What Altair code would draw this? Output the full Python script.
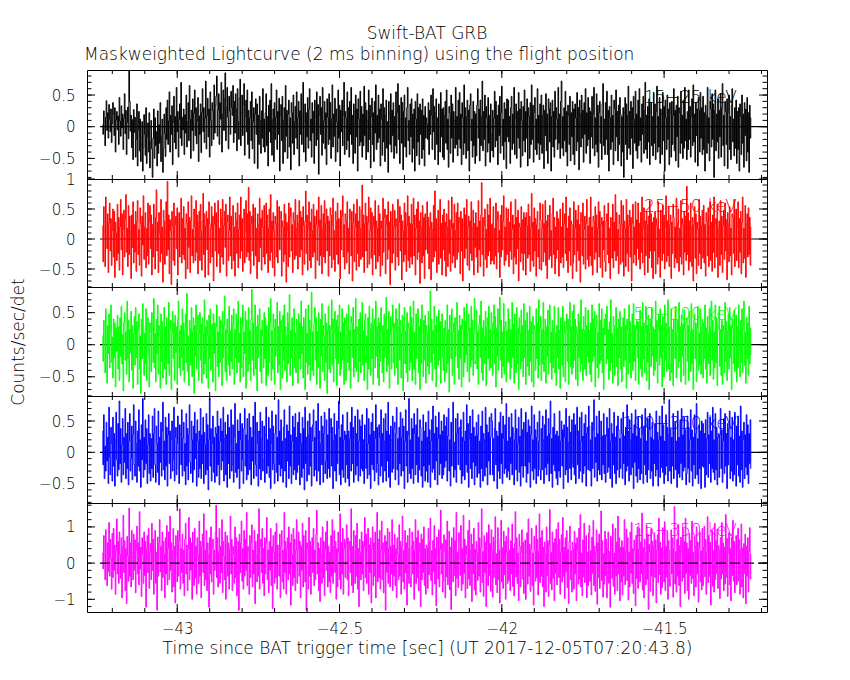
import altair as alt
import numpy as np
import pandas as pd

FONT = "DejaVu Sans"
WEIGHT = 200

# ---- time axis (seconds since BAT trigger), 2 ms bins ----
T_START = -43.23          # centre of first bin
T_END = -41.232           # centre of last bin
ZERO_START = -43.238      # where the zero reference line starts
X_DOMAIN = [-43.278, -41.183]
X_LABELS = [-43, -42.5, -42, -41.5]
X_MINOR_STEP = 0.1

# ---- rates, in hundredths of counts/sec/det ----
RATE_15_25 = [
    3, -12, 25, 8, -30, 15, 41, -6, 22, -18, 35, 12, -8, 28, -25, 5, 38, 19, -14, 30, -40, 10, 24, -5, 17,
    -28, 46, 9, -15, 33, -2, 20, -36, 14, 52, -11, 26, -44, 7, 31, -19, 88, 40, -7, 18, -33, 11, -52, 27, -9,
    15, -48, -20, 36, -62, -5, 24, -38, 12, -55, -27, 8, -70, -33, 19, -12, -45, 30, -58, -16, 6, -40, 22, -65, -24,
    10, -35, -80, -18, 28, -50, 14, -30, -8, -62, 25, -42, 3, -26, 38, -55, -15, 12, -72, -34, 20, -11, -47, 30, -20,
    42, -28, 9, 55, -40, 18, -12, 33, -60, 7, 48, -25, 16, -35, 62, -8, 24, -48, 11, 36, -18, 70, -30, 15, -5,
    28, -44, 19, -10, 50, -32, 8, 38, -22, 65, 12, -50, 26, -6, 44, -38, 21, 58, -14, 30, -27, 9, 46, -55, 17,
    -12, 36, -41, 22, 60, -8, 30, -25, 14, 72, -35, 18, 45, -16, 28, -48, 55, 10, -30, 38, 25, -20, 66, -10, 34,
    48, 80, -15, 26, 52, -28, 38, 12, 70, -40, 20, 58, -6, 44, 85, -22, 30, 62, 15, -35, 48, 25, -12, 56, 30,
    18, 65, -25, 40, -10, 52, 28, -38, 60, 8, -20, 45, 75, -30, 22, 50, -14, 35, 68, -45, 16, 42, -8, 58, -28,
    26, -50, 14, 40, -22, 55, -35, 8, 30, -58, 20, 44, -12, 36, -66, 18, -28, 48, 10, -42, 25, -18, 60, -32, 12,
    -40, 22, 52, -30, 16, -62, 34, -8, 42, -25, 68, -45, 11, 28, -55, 38, -20, 15, 58, -36, 24, -12, 45, -70, 18,
    35, -22, 48, -58, 10, 30, -40, 65, -15, 26, -50, 20, 42, -32, 14, -68, 38, 22, -26, 50, -44, 8, 32, -18, 55,
    -35, 14, 40, -62, 25, -12, 52, -28, 18, 70, -40, 8, 36, -55, 22, -16, 46, -34, 28, 60, -22, 12, -48, 38, -10,
    24, -58, 42, 16, -30, 55, -20, 35, -75, 18, 48, -12, 30, -45, 62, -26, 10, 40, -35, 22, -60, 44, 15, -28, 52,
    -20, 38, -50, 12, 66, -32, 20, -15, 45, -55, 28, 8, -40, 58, -18, 34, -62, 26, -8, 42, -30, 18, 70, -44, 24,
    14, -36, 55, -22, 30, -48, 40, -12, 62, -28, 18, -58, 36, 25, -42, 50, -16, 28, -70, 44, 12, -30, 56, -24, 32,
    -48, 20, -30, 64, -14, 38, -52, 26, 10, -40, 58, -20, 34, -65, 16, 45, -28, 22, -55, 40, -10, 66, -36, 18, -25,
    50, -18, 28, -62, 36, 12, -45, 60, -24, 30, -55, 18, 42, -34, 8, -72, 40, 20, -28, 52, -40, 26, -14, 38, -50,
    16, -30, 55, -42, 22, 68, -20, 34, -58, 12, 46, -26, 38, -68, 24, 50, -32, 14, -48, 30, 62, -22, 10, -44, 36,
    -16, 44, -56, 20, -34, 28, -70, 40, 12, -46, 52, -24, 30, -60, 36, -12, 26, -50, 44, -36, 18, -62, 32, -18, 14,
    4, -20, 38, -44, 26, -12, 50, 18, -36, 60, -8, 32, -52, 22, 44, -28, 14, -60, 36, 20, -40, 54, -16, 28, -48,
    30, -52, 18, 40, -26, 58, -36, 12, -64, 32, 22, -42, 50, -18, 36, -56, 24, 10, -34, 62, -28, 16, -46, 42, -20,
    54, -34, 20, -60, 38, 14, -44, 66, -26, 30, -50, 16, 42, -38, 26, -70, 34, 52, -22, 12, -48, 40, -30, 24, -58,
    20, -46, 34, 60, -18, 28, -54, 42, -30, 16, 72, -38, 24, -20, 50, -62, 32, 14, -40, 46, -26, 18, -56, 36, -12,
    -38, 26, -48, 14, 56, -32, 40, -22, 18, -60, 34, -14, 48, -42, 22, 64, -30, 12, -52, 38, -24, 28, -66, 44, -16,
    42, -24, 16, -58, 30, 48, -36, 20, -26, 62, -44, 14, 36, -50, 24, -18, 54, -34, 28, -64, 40, 10, -46, 32, -22,
    58, -40, 24, -18, 44, -62, 30, 16, -50, 38, -28, 66, -20, 34, -56, 22, 46, -36, 12, -44, 60, -26, 18, -52, 36,
    -28, 50, -42, 18, 34, -66, 26, -14, 52, -38, 20, -58, 44, 28, -24, 38, -70, 16, 42, -32, 24, -48, 56, -20, 30,
    12, -36, 62, -26, 20, -50, 40, 72, -34, 16, -46, 30, -22, 56, -40, 24, -62, 34, 18, -28, 48, -54, 22, -16, 40,
    -44, 28, -60, 36, 14, -38, 54, -24, 30, -68, 42, 20, -32, 50, -18, 26, -56, 38, -12, 60, -42, 22, -30, 46, -20,
    30, -58, 24, -16, 48, -34, 20, 62, -46, 14, -28, 52, -40, 34, -64, 22, 40, -26, 16, -52, 36, 68, -30, 12, -44,
    38, -20, 56, -44, 26, -70, 32, 14, -36, 50, -24, 18, -60, 42, 28, -38, 58, -16, 24, -54, 34, -28, 46, 20, -62,
    16, -40, 30, -80, 22, 46, -28, 36, -52, 18, 64, -34, 24, -44, 40, -18, 30, -66, 48, 12, -26, 56, -38, 20, -50,
    42, -30, 60, -22, 14, -56, 36, -12, 48, -42, 26, 70, -36, 18, -50, 32, -24, 44, -60, 22, 38, -30, 16, -46, 54,
    -26, 36, -52, 24, 64, -40, 16, -32, 46, -58, 28, 20, -44, 54, -22, 32, -70, 42, 14, -36, 50, -20, 28, -60, 38,
    22, -48, 40, -28, 18, 60, -38, 26, -54, 34, -16, 48, -64, 30, 22, -42, 56, -26, 18, -50, 40, -34, 62, -22, 12,
    -52, 24, -36, 58, -20, 32, -48, 16, 44, -30, 66, -24, 20, -56, 38, -14, 28, -62, 46, 26, -40, 54, -18, 30, -44,
    48, -36, 22, -70, 34, 18, -42, 62, -26, 14, -54, 40, 28, -32, 52, -20, 36, -80, 26, 58, -38, 20, -24, 44, -50,
    26, -16, 52, -48, 30, 68, -30, 18, -62, 40, 24, -28, 44, -66, 22, 50, -36, 16, -52, 34, 60, -24, 12, -46, 30,
    -34, 42, -58, 24, -36, 30, -70, 36, 16, -44, 50, -26, 20, -64, 38, -14, 28, -54, 46, -40, 22, -72, 34, -18, 14,
]
RATE_25_50 = [
    22, -38, 54, 12, -46, 70, 28, -16, 42, -56, 26, 60, -20, 34, -44, 14, 50, -30, 46, -64, 28, 10, -36, 58, -24,
    36, -52, 20, 66, -18, 42, -60, 16, 48, -30, 32, 74, -22, 18, -46, 56, -26, 38, 12, -66, 40, -14, 62, -40, 24,
    -22, 46, -54, 30, 64, -26, 16, -44, 52, 26, -62, 38, -10, 72, -34, 20, 44, -48, 18, -28, 60, -42, 30, 56, -16,
    40, -60, 24, -30, 58, 14, -50, 36, 82, -20, 28, -56, 44, 10, -38, 66, -24, 20, -72, 48, 30, -42, 16, 62, -28,
    96, -18, 40, -58, 32, 14, -76, 46, 22, -36, 60, -44, 24, 38, -16, 52, -60, 28, 44, -30, 12, 68, -40, 34, -26,
    54, -34, 18, -66, 42, 26, -50, 62, -14, 36, -56, 30, 72, -28, 16, -40, 50, 20, -36, 64, -22, 40, -58, 28, 46,
    -36, 58, 14, -52, 30, 76, -26, 42, -64, 22, 46, -18, 34, -60, 62, 26, -40, 18, 54, -30, 38, -70, 24, 60, -20,
    44, -46, 30, 64, -24, 18, -56, 50, 34, -30, 66, -42, 22, 46, -14, 58, -62, 28, 40, -36, 14, 70, -28, 38, -50,
    24, 56, -36, 20, -62, 44, 30, -24, 60, -48, 16, 40, -32, 70, -20, 34, -54, 28, 50, -40, 14, 64, -30, 42, -22,
    86, -36, 46, -58, 26, 38, -20, 58, -44, 30, 52, -28, 18, -66, 42, 24, -38, 68, -14, 34, -52, 48, 20, -30, 56,
    -42, 28, 60, -24, 40, -56, 18, 50, -36, 74, -22, 30, -48, 44, 14, -62, 38, 26, -30, 64, -40, 22, 54, -18, 36,
    46, -62, 30, 20, -38, 58, -26, 42, -72, 28, 14, -46, 60, -30, 38, 52, -20, 24, -56, 44, 30, -34, 66, -28, 18,
    40, -50, 26, 64, -30, 46, -18, 36, -60, 54, 22, -42, 30, 80, -24, 40, -52, 18, 62, -36, 28, -48, 50, 14, -30,
    58, -22, 38, -66, 24, 48, -36, 20, 70, -44, 32, -28, 56, -58, 18, 42, -30, 64, -40, 26, 50, -20, 38, -62, 30,
    -28, 52, 40, -48, 22, 68, -34, 14, -54, 46, 30, -26, 60, -42, 34, 20, -66, 48, -18, 38, 72, -30, 24, -50, 42,
    30, -40, 62, -22, 18, -58, 50, 34, -28, 46, -70, 26, 58, -38, 20, 42, -52, 66, -24, 30, -46, 54, 18, -34, 48,
    90, -30, 40, -56, 26, 60, -20, 38, -48, 28, 70, -42, 14, 52, -32, 44, -60, 22, 38, -26, 64, -50, 30, 18, -38,
    56, -28, 42, -62, 30, 18, -44, 68, -22, 36, 50, -58, 24, 40, -34, 62, -18, 28, -76, 46, 32, -40, 58, -24, 20,
    48, -52, 34, 22, -30, 66, -44, 28, 54, -20, 40, -68, 30, 14, -38, 60, -26, 44, -54, 22, 72, -36, 38, -48, 26,
    -30, 58, -42, 24, 68, -28, 40, -60, 18, 50, -34, 62, -22, 30, -74, 44, 20, -40, 56, -28, 36, -66, 42, -18, 30,
    62, -24, 36, -50, 20, 44, -68, 28, 16, -38, 56, -30, 80, -20, 34, -56, 24, 48, -42, 18, 66, -32, 26, -60, 40,
    -18, 50, -36, 28, -62, 42, 20, -46, 64, -24, 32, -54, 18, 70, -40, 26, -28, 58, -48, 14, 44, -34, 60, -22, 36,
    28, -58, 46, -20, 34, -70, 24, 52, -32, 40, -16, 66, -44, 20, 38, -52, 30, -24, 62, -36, 18, 48, -60, 26, -14,
    44, -30, 20, -56, 64, -18, 30, -46, 40, 94, -26, 36, -62, 22, 50, -34, 16, -48, 58, -28, 40, -20, 68, -42, 24,
    -36, 26, 54, -42, 18, -28, 60, -50, 32, 46, -22, 14, -64, 40, -30, 56, -18, 30, 72, -44, 20, -36, 52, -26, 34,
    50, -46, 28, -20, 62, -34, 16, 40, -58, 24, -30, 66, -42, 36, -16, 48, -70, 26, 20, -38, 54, -24, 32, -52, 44,
    -24, 36, -60, 44, 22, -32, 58, -26, 38, -54, 18, 76, -36, 28, -46, 52, -20, 34, -62, 24, 46, -30, 16, -50, 60,
    32, -52, 18, 58, -38, 26, -22, 64, -44, 30, -66, 40, 22, -34, 56, -28, 14, -48, 42, 68, -26, 36, -58, 20, -32,
    46, -18, 34, -62, 28, 50, -40, 20, -30, 60, -48, 26, 42, -24, 70, -36, 18, -56, 38, -20, 52, -44, 30, 24, -66,
    -40, 62, -26, 18, 48, -54, 32, -20, 56, -36, 24, -72, 44, 30, -28, 60, -42, 16, 38, -50, 26, 66, -34, 22, -46,
    36, -28, 70, -44, 20, -60, 38, 28, -34, 54, -22, 40, -56, 18, 62, -30, 46, -48, 24, 36, -64, 30, -18, 56, -38,
    -54, 30, 42, -26, 60, -40, 18, -66, 36, 24, -32, 58, -48, 28, -20, 74, -36, 44, -28, 16, -58, 40, 26, -42, 64,
    24, -38, 56, -62, 30, 18, -46, 66, -24, 40, -54, 22, 48, -30, 36, -70, 26, 58, -40, 20, -26, 62, -44, 32, -16,
    60, -34, 26, -50, 44, -22, 70, -40, 18, 52, -60, 30, -28, 46, 24, -56, 38, -32, 64, -20, 42, -48, 28, -66, 36,
    -20, 46, -58, 34, 22, -42, 62, -30, 16, -64, 48, 28, -36, 56, -24, 40, -50, 20, 72, -38, 30, -28, 54, -46, 24,
    40, -66, 28, -24, 58, 36, -48, 20, -32, 68, -40, 26, 50, -54, 18, -30, 64, -42, 34, 24, -60, 46, -22, 38, -36,
    88, -26, 44, -52, 30, -38, 60, 20, -46, 36, -70, 24, 54, -32, 42, -58, 28, 16, -44, 66, -24, 38, -50, 22, 48,
    -32, 56, -40, 24, -62, 44, 30, -28, 52, -46, 20, 62, -36, 28, -54, 40, -22, 70, -48, 26, 34, -30, 58, -64, 18,
    30, -44, 64, -26, 38, -56, 22, 48, -34, 60, -20, 32, -68, 44, 26, -38, 54, -28, 18, -60, 42, 36, -24, 66, -46,
    -28, 50, -36, 20, 62, -48, 34, -22, 46, -58, 28, 70, -40, 18, -32, 56, -64, 24, 42, -30, 52, -26, 36, -44, 20,
]
RATE_50_100 = [
    14, -26, 38, 8, -44, 56, 22, -60, 30, -14, 48, -36, 20, 62, -28, 12, -52, 40, -20, 34, -66, 26, -10, 46, -38,
    28, -56, 42, -18, 60, -30, 16, -72, 34, 50, -24, 20, -46, 68, -22, 38, -58, 24, -12, 52, -40, 30, -68, 18, 44,
    -32, 58, -20, 36, -62, 24, 48, -38, 14, -76, 40, -22, 64, 30, -48, 18, -30, 56, -56, 28, 42, -18, -66, 34, 20,
    -42, 50, 24, -28, 72, -36, 18, -58, 40, -14, 62, -46, 30, 22, -68, 48, -26, 36, -52, 14, 58, -38, 28, -62, 42,
    20, -30, 66, -48, 24, 38, -70, 18, 52, -22, 34, -56, 46, -12, 28, -62, 40, 68, -36, 22, -48, 30, -20, 56, -40,
    34, -58, 22, 48, -28, 80, -42, 14, -64, 38, 26, -32, 58, -50, 20, 42, -76, 30, -18, 62, -38, 24, 46, -56, 18,
    50, -24, 32, -60, 42, 18, -46, 70, -30, 28, -52, 38, 14, -68, 46, -22, 56, -40, 26, 32, -58, 48, -14, 34, -72,
    28, 62, -34, 20, -50, 44, -28, 38, 14, -64, 52, -20, 30, 76, -42, 24, -56, 40, 18, -32, 60, -48, 22, -26, 46,
    -38, 30, 56, -62, 24, -20, 48, -44, 34, 68, -28, 18, -58, 42, -36, 28, 62, -50, 20, -14, 52, -68, 38, 26, -42,
    58, -30, 22, -56, 40, 86, -24, 34, -48, 18, 62, -38, 28, -72, 46, -20, 30, 56, -42, 24, -60, 38, 14, -36, 50,
    -22, 42, -64, 30, 18, -48, 58, -28, 34, 72, -56, 22, -38, 48, 26, -62, 40, -18, 30, 66, -44, 28, -32, 52, -70,
    38, 20, -52, 46, -24, 62, -40, 28, 14, -58, 50, -30, 34, 78, -48, 22, -20, 42, -64, 30, 56, -36, 18, -44, 40,
    26, -60, 48, -22, 34, -38, 68, -14, 28, -52, 42, 30, -70, 56, -28, 18, -46, 62, -32, 38, -56, 24, 82, -40, 20,
    -48, 34, 58, -24, 42, -62, 20, -36, 50, 28, -68, 40, -18, 64, -42, 30, 14, -56, 48, -28, 34, -76, 22, 60, -38,
    30, -44, 24, 70, -32, 40, -58, 18, 52, -22, 38, -64, 46, -30, 28, 62, -48, 20, -38, 56, -24, 34, -62, 42, 14,
    -56, 48, 30, -28, 62, -40, 22, -68, 44, 34, -20, 58, -50, 24, -36, 72, -42, 28, 18, -58, 40, -26, 50, -44, 30,
    66, -32, 22, -56, 38, 48, -28, 14, -70, 42, -38, 60, 24, -48, 34, -22, 56, -62, 30, 40, -36, 68, -18, 28, -52,
    42, -64, 34, -26, 58, 20, -44, 30, -58, 48, -20, 38, 74, -42, 24, -32, 52, -68, 18, 44, -38, 28, 62, -28, 34,
    -48, 22, 56, -36, 40, -62, 28, 64, -24, 38, -52, 18, 46, -72, 30, 58, -30, 22, -44, 50, -58, 34, 26, -40, 60,
    -28, 42, -56, 30, 68, -38, 20, -62, 48, -22, 34, 56, -44, 28, -70, 40, -30, 62, 18, -50, 38, -24, 46, -60, 30,
    18, -34, 52, -46, 26, 84, -28, 40, -56, 22, -14, 60, -38, 30, -66, 44, 20, -32, 54, -24, 36, -60, 28, 48, -20,
    -40, 26, -58, 38, 16, -44, 62, -30, 24, -74, 46, 28, -22, 56, -48, 20, 34, -62, 42, -18, 30, 66, -36, 22, -54,
    46, -22, 30, -66, 40, 24, -50, 58, -28, 36, -16, 64, -42, 20, 48, -58, 26, -34, 60, -24, 38, -48, 18, 72, -30,
    -26, 54, -38, 20, -62, 32, 46, -20, 68, -44, 26, -56, 38, 14, -30, 52, -64, 28, 42, -22, 60, -40, 24, -36, 50,
    34, -48, 18, 62, -30, 44, -66, 26, -18, 56, -40, 30, 74, -24, 38, -52, 20, -34, 64, -46, 28, 36, -58, 22, -26,
    56, -28, 40, -54, 24, -36, 66, -20, 32, -60, 48, 22, -44, 58, -30, 26, -70, 42, 18, -38, 54, -26, 30, -50, 64,
    -20, 38, -62, 28, 50, -34, 22, -48, 60, -26, 36, -58, 18, 44, -66, 30, 24, -40, 56, -22, 34, -52, 70, -32, 26,
    44, -56, 24, -30, 66, -42, 20, 40, -60, 28, -18, 54, -46, 32, 62, -28, 20, -54, 38, -36, 26, 60, -44, 18, -64,
    30, -20, 58, -38, 22, -68, 42, 26, -32, 60, -50, 18, 36, -58, 24, 48, -26, 40, -62, 20, 66, -34, 28, -46, 52,
    -36, 62, -24, 40, -54, 28, 18, -64, 48, -20, 36, -42, 70, -30, 24, -56, 44, 22, -38, 58, -48, 30, -18, 54, -28,
    22, -46, 34, -58, 62, -26, 40, -18, 52, -66, 28, 46, -36, 20, -52, 64, -30, 38, -24, 56, -44, 26, -70, 40, 16,
    48, -30, 60, -22, 24, -54, 36, -40, 70, -28, 18, -60, 44, 30, -48, 22, 58, -34, 26, -64, 40, -20, 52, -38, 28,
    -58, 26, 42, -34, 56, -24, 30, -68, 40, 22, -46, 62, -28, 36, -52, 18, 48, -40, 64, -26, 30, -56, 24, 38, -20,
    36, -62, 20, 54, -38, 28, -50, 66, -22, 34, -44, 18, 60, -56, 30, -28, 46, -70, 24, 40, -34, 58, -18, 28, -48,
    24, -40, 68, -26, 38, -60, 22, 48, -32, 56, -20, 30, -66, 44, 26, -50, 62, -24, 34, -42, 18, 70, -38, 28, -56,
    -30, 56, -44, 24, -64, 40, 30, -22, 60, -52, 20, 38, -36, 66, -26, 28, -58, 46, -18, 32, -48, 54, 24, -62, 36,
    42, -26, 30, -56, 52, 20, -42, 64, -30, 24, -70, 38, 48, -22, 34, -58, 26, 60, -40, 18, -32, 56, -46, 28, 40,
    -52, 34, -22, 62, -38, 26, -60, 44, 18, -30, 56, -48, 28, 68, -24, 38, -54, 20, -36, 62, -28, 42, -64, 24, 30,
    60, -34, 24, -48, 38, -62, 30, 20, -44, 66, -26, 36, -56, 22, 48, -38, 58, -20, 30, -70, 40, 26, -30, 54, -42,
    -24, 46, -58, 28, -36, 62, 20, -50, 38, -28, 56, -44, 24, 68, -32, 20, -60, 42, -22, 34, -48, 60, -30, 26, -16,
]
RATE_100_350 = [
    34, -20, 60, -42, 10, -30, 48, -14, 24, -50, 72, -8, -36, 40, 14, -46, 56, -22, 30, -54, 20, 64, -12, -38, 46,
    -28, 82, -18, 38, -48, 12, 54, -36, 24, -16, 70, -42, 30, -26, 48, -52, 18, 62, -30, -10, 42, -44, 28, 76, -20,
    -38, 50, 14, -48, 34, -22, 68, -30, 20, -56, 44, -12, 86, -40, 24, -28, 52, -18, 38, -50, 12, 60, -34, 30, -46,
    22, -26, 58, -40, 30, 70, -20, -48, 42, 14, -32, 66, -52, 24, -16, 48, -38, 34, 80, -28, 18, -44, 56, -22, 40,
    -54, 28, 62, -18, 34, -42, 20, 50, -30, -12, 72, -46, 24, 40, -36, 14, 58, -26, -50, 44, 30, -20, 68, -38, 22,
    48, -30, 14, -52, 62, -22, 38, -44, 28, 76, -16, -34, 50, 20, -48, 42, -28, 64, -10, 30, -54, 52, 18, -40, 34,
    -26, 70, -42, 28, -18, 56, -50, 32, 12, -36, 62, -28, 44, -60, 20, 86, -22, 38, -46, 14, 58, -32, 24, -48, 40,
    30, -38, 66, -20, 42, -52, 18, 54, -28, 34, -14, 72, -46, 22, 48, -36, 28, -56, 60, -18, 40, -42, 14, 68, -30,
    -20, 44, -48, 24, 78, -32, 14, -40, 52, -26, 34, -58, 62, 20, -30, 46, -12, -50, 38, 70, -22, 28, -44, 54, -36,
    18, 62, -28, 40, -52, 24, -14, 58, -42, 30, 80, -20, -38, 48, 14, -54, 34, -26, 64, -44, 22, 50, -30, -12, 42,
    -48, 28, 72, -34, 20, -22, 56, -40, 38, -58, 14, 66, -28, 42, -18, -50, 30, 60, -32, 24, -46, 84, -20, 34, -38,
    52, -26, 18, -48, 40, 68, -30, 22, -56, 44, -14, 34, -42, 74, -22, 28, -50, 18, 58, -36, 40, -28, 62, -44, 24,
    -32, 48, -20, 64, -52, 30, 14, -40, 56, -26, 38, -60, 72, -18, 24, -46, 50, 28, -36, 62, -22, 40, -54, 18, 44,
    68, -38, 24, -28, 50, -46, 22, 78, -30, 34, -52, 14, 58, -20, 42, -48, 30, 64, -34, -14, 52, -42, 28, -26, 70,
    -40, 32, 54, -22, 40, -58, 18, 62, -30, 28, -46, 50, -18, 38, 82, -36, 24, -52, 44, -28, 60, -40, 20, 34, -48,
    28, -20, 64, -42, 34, -54, 22, 48, -30, 72, -18, 40, -48, 24, 58, -36, 30, -22, 68, -46, 18, 52, -38, 42, -26,
    60, -30, 20, -50, 44, 38, -26, 70, -42, 14, 54, -36, 28, -58, 48, -20, 62, -28, 34, -46, 22, 76, -32, 40, -18,
    -52, 44, 24, -38, 68, -22, 30, -48, 54, 18, -30, 62, -46, 34, -14, 80, -40, 28, -56, 42, 20, -32, 58, -26, 38,
    48, -44, 30, 72, -28, 22, -52, 40, -18, 64, -38, 24, 54, -30, 42, -58, 18, 68, -22, 34, -48, 28, 86, -34, 20,
    -42, 54, -26, 38, -50, 62, 30, -36, 44, -20, 70, -48, 24, -28, 52, 40, -38, 18, -56, 60, -22, 34, -46, 48, -30,
    24, -48, 66, -20, 36, -56, 18, 52, -32, 74, -26, 30, -44, 58, -14, 40, -52, 22, 64, -36, 28, -18, 50, -42, 34,
    -36, 60, -24, 42, -14, 56, -46, 26, 70, -30, 20, -54, 48, -22, 36, 80, -40, 16, -28, 54, -48, 30, 62, -20, 38,
    40, -28, 52, -50, 24, -38, 64, 18, -44, 34, -20, 76, -32, 46, -56, 22, 58, -26, 30, -42, 68, -16, 40, -52, 26,
    -22, 48, -40, 28, 60, -34, 18, -56, 42, -26, 66, -46, 30, 20, -38, 72, -24, 44, -52, 32, -14, 56, -36, 24, 62,
    50, -36, 22, -46, 38, 70, -20, 34, -58, 26, -30, 48, -42, 64, -18, 30, -50, 58, 22, -34, 44, -26, 78, -40, 18,
    -30, 56, -44, 24, -18, 62, -36, 40, 30, -52, 20, 68, -28, 38, -46, 14, 56, -32, 26, -54, 70, -22, 36, -40, 48,
    26, -22, 64, -48, 32, -34, 52, -16, 42, -56, 28, 74, -30, 20, -44, 60, -26, 36, -50, 24, 48, -38, 18, 66, -28,
    -44, 38, -28, 58, 20, -50, 44, -24, 68, -36, 26, -18, 54, -46, 30, 82, -34, 22, -56, 40, -20, 62, -30, 28, -42,
    34, -52, 26, -30, 66, -40, 18, 50, -22, 36, -58, 44, 24, -36, 70, -28, 40, -48, 16, 58, -26, 32, -44, 52, -18,
    -24, 62, -36, 44, -50, 28, 72, -20, 34, -42, 56, -30, 18, 64, -48, 26, -34, 46, -22, 60, -54, 30, 40, -28, 74,
    42, -30, 20, -54, 48, -26, 36, 84, -40, 24, -16, 58, -46, 30, -28, 66, -36, 22, 50, -44, 26, -20, 62, -34, 28,
    -48, 26, 56, -32, 38, -24, 70, -42, 18, 46, -56, 30, -20, 64, -34, 24, -50, 42, -28, 58, 36, -40, 22, -26, 54,
    30, -42, 64, -18, 26, -52, 40, -30, 76, -22, 34, -46, 52, 20, -36, 62, -24, 30, -58, 44, -16, 68, -38, 26, -48,
    56, -26, 38, -44, 22, -34, 60, 28, -50, 42, -20, 70, -36, 18, -48, 54, -28, 36, 62, -42, 24, -30, 48, -54, 20,
    -18, 46, -38, 66, -28, 32, -54, 20, 58, -40, 26, -24, 74, -32, 44, -50, 18, -36, 60, -22, 40, -46, 28, 84, -30,
    38, -50, 24, -22, 62, -42, 30, 48, -28, 18, -56, 66, -34, 24, -40, 52, -18, 70, -44, 28, -30, 56, -24, 36, -52,
    -34, 58, -26, 40, -48, 20, 68, -30, 36, -54, 24, -20, 60, -42, 30, 78, -36, 22, -50, 44, -26, 34, -58, 50, -22,
    46, -24, 30, -56, 52, -36, 22, 64, -40, 28, -18, 56, -48, 34, -26, 72, -32, 20, -44, 62, -28, 40, -52, 24, 30,
    -40, 28, 70, -26, 36, -48, 18, 54, -34, 62, -22, 30, -58, 46, -20, 38, 66, -42, 24, -30, 56, -46, 20, -36, 64,
    22, -54, 42, -20, 58, -38, 26, -48, 74, -28, 34, -56, 20, 48, -42, 28, -24, 60, -36, 44, -50, 30, -18, 52, -26,
]
RATE_15_350 = [
    28, -16, 76, 22, -46, 92, 38, -62, 56, -24, 112, -36, 66, 14, -72, 82, -40, 96, -20, 50, -86, 34, 122, -30, 60,
    -56, 86, 24, -42, 70, -96, 44, 132, -26, 62, -76, 40, -112, 74, 20, -50, 152, -36, 56, -66, 90, 30, -46, 80, -20,
    64, -82, 36, 102, -30, 56, -60, 142, -16, 44, -92, 70, 24, -56, 86, -34, 60, -122, 40, 76, -26, 96, -70, 30, 54,
    -46, 110, -20, 66, -86, 40, 90, -56, 30, -130, 72, -36, 54, 120, -24, 46, -76, 86, -40, 60, 26, -96, 70, -30, 104,
    -60, 40, 86, -46, 130, -20, 56, -80, 34, 96, -66, 46, -110, 76, 20, -52, 90, -36, 60, 150, -72, 40, -26, 80, -56,
    36, -90, 66, 110, -30, 50, -76, 40, 126, -46, 70, -20, 56, -100, 86, 30, -62, 96, -40, 46, -86, 70, 24, -56, 116,
    -36, 60, -96, 46, 80, -26, 136, -62, 36, -46, 90, -76, 56, 24, -122, 70, -30, 100, -52, 40, 66, -86, 36, -20, 86,
    160, -40, 70, -66, 30, 96, -56, 46, -26, 120, -82, 60, 20, -46, 86, -100, 50, 76, -36, 56, -72, 40, 130, -30, 66,
    -76, 46, 24, -56, 100, -40, 70, -90, 36, 60, -130, 80, -26, 56, 116, -50, 40, -72, 90, -36, 66, -20, 140, -62, 46,
    30, -86, 76, -40, 56, 106, -66, 36, -30, 90, -112, 60, 24, -52, 80, -36, 150, -72, 46, 66, -26, 96, -56, 40, -90,
    70, -30, 56, 126, -46, 36, -82, 60, -20, 96, -62, 46, -126, 76, 30, -56, 86, -40, 110, -72, 50, 24, -36, 80, -96,
    46, 90, -52, 36, -72, 140, -26, 60, -86, 40, 70, -46, 100, -30, 56, -116, 80, 24, -62, 96, -40, 66, -76, 36, 120,
    -56, 40, 86, -36, 60, -96, 46, -20, 110, -66, 76, 30, -52, 90, -130, 56, 40, -72, 126, -36, 60, -86, 46, 70, -26,
    96, -62, 36, -46, 80, 146, -30, 56, -76, 40, -106, 70, 24, -56, 100, -40, 60, -90, 36, 86, -20, 116, -66, 46, -52,
    30, -82, 76, -36, 120, -56, 46, 90, -26, 60, -100, 40, -66, 86, 30, -46, 136, -72, 56, -30, 96, -86, 40, 66, -40,
    56, 106, -46, 70, -90, 36, 60, -26, 150, -62, 46, -82, 90, 24, -56, 76, -36, 110, -72, 40, -120, 66, 30, -46, 86,
    -30, 60, -76, 46, 126, -40, 80, -56, 36, 96, -86, 50, -26, 70, -110, 40, 100, -62, 56, -36, 86, -96, 30, 140, -52,
    66, -40, 90, -72, 36, 116, -46, 56, -82, 30, 76, -130, 60, -26, 96, -56, 40, 86, -66, 46, -30, 120, -76, 50, -36,
    80, -62, 40, -96, 70, 24, -46, 106, -36, 60, -86, 46, 130, -52, 36, -72, 90, -26, 56, -116, 76, 40, -56, 96, -40,
    -66, 46, 86, -30, 60, -100, 36, 120, -56, 70, -40, 90, -76, 30, 56, -120, 80, -46, 66, -26, 100, -62, 40, -86, 50,
    42, -70, 96, -32, 58, 124, -48, 34, -88, 62, -24, 104, -58, 40, -118, 72, 28, -44, 92, -66, 38, 146, -30, 54, -80,
    -50, 78, 32, -96, 64, -38, 116, -60, 26, 88, -74, 44, -128, 70, 36, -52, 98, -34, 62, -90, 140, -42, 30, -68, 84,
    58, -34, 104, -76, 40, -58, 132, -28, 66, -96, 48, 24, -70, 90, -44, 118, -62, 36, 80, -106, 52, -30, 96, -74, 38,
    -88, 60, 28, -48, 112, -36, 70, -80, 44, 150, -54, 32, -92, 76, -26, 58, -120, 84, 40, -62, 106, -34, 54, -78, 92,
    34, -94, 72, -40, 58, 128, -60, 26, -82, 98, -46, 36, -110, 66, 118, -52, 42, -70, 88, -32, 60, -100, 74, 30, -56,
    98, -48, 36, -76, 62, -30, 108, -64, 40, -90, 54, 142, -38, 70, -56, 28, -104, 80, 46, -66, 30, 92, -44, 58, -84,
    -42, 64, -100, 30, 84, -58, 122, -36, 52, -78, 40, 96, -62, 28, -116, 74, 36, -50, 104, -40, 66, -88, 32, 136, -54,
    70, -36, 90, -66, 44, -120, 58, 26, -80, 100, -34, 62, -92, 48, 148, -56, 30, -74, 86, -42, 56, -104, 68, -28, 94,
    -60, 50, 112, -40, 66, -86, 30, 78, -52, 126, -36, 44, -98, 70, -24, 90, -68, 38, -112, 60, 102, -46, 34, -80, 58,
    40, -72, 88, -30, 54, -104, 70, 36, -58, 96, -44, 134, -66, 28, -90, 64, -38, 110, -54, 42, 76, -96, 30, -62, 82,
    104, -50, 34, -88, 72, -28, 118, -62, 46, -78, 30, 92, -114, 56, -40, 80, -70, 36, 144, -48, 62, -94, 26, -58, 88,
    -34, 66, -96, 40, 86, -56, 32, -122, 74, 50, -42, 108, -64, 28, -86, 96, -36, 58, -76, 130, -30, 70, -104, 44, -52,
    62, -88, 44, -36, 120, -60, 34, 94, -48, 70, -102, 30, -66, 86, -28, 112, -56, 40, -84, 64, 36, -118, 76, -42, 100,
    -70, 38, 96, -52, 58, -30, 138, -74, 42, -96, 66, 28, -60, 104, -44, 80, -128, 52, 30, -78, 94, -36, 60, -90, 46,
    84, -40, 64, -110, 36, 78, -54, 124, -32, 58, -86, 42, -68, 98, 30, -52, 114, -76, 46, -38, 88, -100, 62, 36, -64,
    -46, 92, -30, 70, -94, 40, 156, -58, 32, -80, 66, -36, 106, -62, 48, -120, 72, 30, -50, 96, -40, 60, -84, 124, -28,
    56, -76, 40, -100, 82, -34, 62, -56, 116, -42, 30, -90, 74, 48, -66, 100, -30, 58, -108, 40, 86, -52, 34, -74, 96,
    -62, 44, 102, -38, 66, -86, 30, 128, -54, 76, -36, 58, -116, 40, 90, -64, 34, -80, 110, -46, 62, -28, 94, -70, 48,
    36, -98, 70, -44, 112, -30, 56, -76, 44, -58, 134, -40, 68, -92, 28, 84, -60, 40, -104, 72, -34, 118, -50, 60, -82,
    -40, 76, -60, 30, 96, -50, 64, -86, 38, 108, -66, 42, -96, 54, -28, 80, -112, 46, -36, 70, -80, 32, 98, -44, 24,
]

SERIES = [RATE_15_25, RATE_25_50, RATE_50_100, RATE_100_350, RATE_15_350]
BANDS = ["15\u221225 keV", "25\u221250 keV", "50\u2212100 keV", "100\u2212350 keV", "15\u2212350 keV"]
COLORS = ["#000000", "#ff0000", "#00ff00", "#0000ff", "#ff00ff"]
Y_DOMAINS = [[-0.825, 0.895], [-0.8, 1.0], [-0.8, 0.9], [-0.81, 0.9], [-1.35, 1.66]]
Y_LABELS = [[-0.5, 0, 0.5], [-0.5, 0, 0.5, 1], [-0.5, 0, 0.5], [-0.5, 0, 0.5], [-1, 0, 1]]
Y_MAJOR_STEP = [0.5, 0.5, 0.5, 0.5, 1.0]
Y_MINOR_STEP = [0.1, 0.1, 0.1, 0.1, 0.2]
HEIGHTS = [109, 108, 109, 107, 109]
W = 680

TITLE_TOP = "Swift-BAT GRB"
TITLE_SUB = "Maskweighted Lightcurve (2 ms binning) using the flight position"
X_TITLE = "Time since BAT trigger time [sec] (UT 2017-12-05T07:20:43.8)"
Y_TITLE = "Counts/sec/det"


def steps(lo, hi, s):
    k0 = int(np.ceil(lo / s - 1e-9))
    k1 = int(np.floor(hi / s + 1e-9))
    return [round(k * s, 3) for k in range(k0, k1 + 1)]


X_MINOR = steps(X_DOMAIN[0], X_DOMAIN[1], X_MINOR_STEP)


def panel(i):
    H = HEIGHTS[i]
    last = i == len(SERIES) - 1
    xscale = alt.Scale(domain=X_DOMAIN, nice=False, zero=False)
    yscale = alt.Scale(domain=Y_DOMAINS[i], nice=False, zero=False)
    if last:
        xaxis = alt.Axis(values=X_LABELS, format="~g", ticks=False, tickSize=0, domain=False, grid=False,
                         labelFontSize=15, labelPadding=9, labelColor="black", labelFont=FONT,
                         labelFontWeight=WEIGHT,
                         title=X_TITLE, titleFontSize=17, titleFontWeight=WEIGHT, titleColor="black",
                         titleFont=FONT, titlePadding=4)
    else:
        xaxis = None
    ykw = dict(values=Y_LABELS[i], format="~g", ticks=False, tickSize=0, domain=False, grid=False,
               labelFontSize=15, labelPadding=12, labelColor="black", labelFont=FONT,
               labelFontWeight=WEIGHT)
    if i == 2:
        ykw.update(title=Y_TITLE, titleFontSize=17, titleFontWeight=WEIGHT, titleColor="black",
                   titleFont=FONT, titlePadding=11)
    else:
        ykw.update(title=None)
    yaxis = alt.Axis(**ykw)

    def X():
        return alt.X("t:Q", scale=xscale, axis=xaxis)

    def Y():
        return alt.Y("v:Q", scale=yscale, axis=yaxis)

    vals = SERIES[i]
    df = pd.DataFrame({"t": np.linspace(T_START, T_END, len(vals)), "v": np.array(vals) / 100.0})
    zero_df = pd.DataFrame({"t": [ZERO_START], "v": [0.0]})

    line = alt.Chart(df).mark_line(interpolate="step", strokeWidth=1, color=COLORS[i]).encode(x=X(), y=Y())
    if last:
        zero = alt.Chart(zero_df).mark_rule(color="black", strokeWidth=1.2, strokeDash=[10, 4]).encode(
            x=X(), x2=alt.value(W), y=Y())
        layers = [line, zero]
    else:
        zero = alt.Chart(zero_df).mark_rule(color="black", strokeWidth=1.2).encode(
            x=X(), x2=alt.value(W), y=Y())
        layers = [zero, line]

    # inward ticks on all four sides
    xt = [(pd.DataFrame({"t": X_MINOR}), 4), (pd.DataFrame({"t": X_LABELS}), 8)]
    for d, L in xt:
        layers.append(alt.Chart(d).mark_rule(color="black", strokeWidth=1).encode(
            x=X(), y=alt.value(0), y2=alt.value(L)))
        layers.append(alt.Chart(d).mark_rule(color="black", strokeWidth=1).encode(
            x=X(), y=alt.value(H - L), y2=alt.value(H)))
    lo, hi = Y_DOMAINS[i]
    yt = [(pd.DataFrame({"v": steps(lo, hi, Y_MINOR_STEP[i])}), 4.5),
          (pd.DataFrame({"v": steps(lo, hi, Y_MAJOR_STEP[i])}), 8)]
    for d, L in yt:
        layers.append(alt.Chart(d).mark_rule(color="black", strokeWidth=1).encode(
            y=Y(), x=alt.value(0), x2=alt.value(L)))
        layers.append(alt.Chart(d).mark_rule(color="black", strokeWidth=1).encode(
            y=Y(), x=alt.value(W - L), x2=alt.value(W)))

    label = alt.Chart(pd.DataFrame({"label": [BANDS[i]]})).mark_text(
        align="right", baseline="middle", fontSize=17, font=FONT, fontWeight=WEIGHT, color=COLORS[i]).encode(
        x=alt.value(W - 30), y=alt.value(28), text="label:N")
    layers.append(label)

    if i == 0:
        top = alt.Chart(pd.DataFrame({"label": [TITLE_TOP]})).mark_text(
            align="center", baseline="middle", fontSize=17, font=FONT, fontWeight=WEIGHT, color="black").encode(
            x=alt.value(W / 2), y=alt.value(-35.6), text="label:N")
        sub = alt.Chart(pd.DataFrame({"label": [TITLE_SUB]})).mark_text(
            align="left", baseline="middle", fontSize=17, font=FONT, fontWeight=WEIGHT, color="black").encode(
            x=alt.value(-3), y=alt.value(-15), text="label:N")
        layers += [top, sub]
    return alt.layer(*layers).properties(width=W, height=H)


chart = alt.vconcat(*[panel(i) for i in range(len(SERIES))], spacing=0, bounds="flush").properties(
    padding={"left": 1, "top": 16, "right": 10, "bottom": 5}
).configure_view(stroke="black", strokeWidth=1)

chart.save("out.html", embed_options={"renderer": "svg", "actions": False})
